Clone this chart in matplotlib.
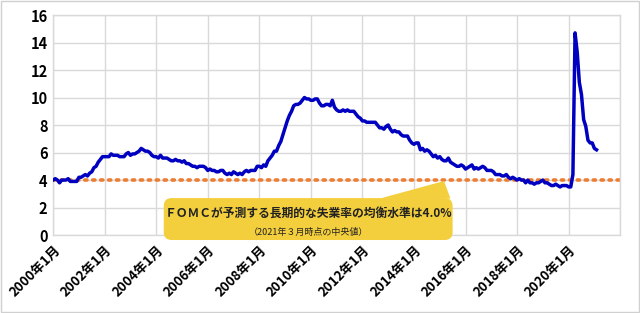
import matplotlib
matplotlib.use("Agg")
import matplotlib.pyplot as plt
from matplotlib.patches import FancyBboxPatch, Polygon, Rectangle

plt.rcParams['font.family'] = ['Noto Sans CJK JP', 'DejaVu Sans']

# US unemployment rate (%), monthly from 2000-01
rate = [
    4.0, 4.1, 4.0, 3.8, 4.0, 4.0, 4.0, 4.1, 3.9, 3.9, 3.9, 3.9,   # 2000
    4.2, 4.2, 4.3, 4.4, 4.3, 4.5, 4.6, 4.9, 5.0, 5.3, 5.5, 5.7,   # 2001
    5.7, 5.7, 5.7, 5.9, 5.8, 5.8, 5.8, 5.7, 5.7, 5.7, 5.9, 6.0,   # 2002
    5.8, 5.9, 5.9, 6.0, 6.1, 6.3, 6.2, 6.1, 6.1, 6.0, 5.8, 5.7,   # 2003
    5.7, 5.6, 5.8, 5.6, 5.6, 5.6, 5.5, 5.4, 5.4, 5.5, 5.4, 5.4,   # 2004
    5.3, 5.4, 5.2, 5.2, 5.1, 5.0, 5.0, 4.9, 5.0, 5.0, 5.0, 4.9,   # 2005
    4.7, 4.8, 4.7, 4.7, 4.6, 4.6, 4.7, 4.7, 4.5, 4.4, 4.5, 4.4,   # 2006
    4.6, 4.5, 4.4, 4.5, 4.4, 4.6, 4.7, 4.6, 4.7, 4.7, 4.7, 5.0,   # 2007
    5.0, 4.9, 5.1, 5.0, 5.4, 5.6, 5.8, 6.1, 6.1, 6.5, 6.8, 7.3,   # 2008
    7.8, 8.3, 8.7, 9.0, 9.4, 9.5, 9.5, 9.6, 9.8, 10.0, 9.9, 9.9,  # 2009
    9.8, 9.8, 9.9, 9.9, 9.6, 9.4, 9.4, 9.5, 9.5, 9.4, 9.8, 9.3,   # 2010
    9.1, 9.0, 9.0, 9.1, 9.0, 9.1, 9.0, 9.0, 9.0, 8.8, 8.6, 8.5,   # 2011
    8.3, 8.3, 8.2, 8.2, 8.2, 8.2, 8.2, 8.0, 7.8, 7.8, 7.7, 7.9,   # 2012
    8.0, 7.7, 7.5, 7.6, 7.5, 7.5, 7.3, 7.2, 7.2, 7.2, 6.9, 6.7,   # 2013
    6.6, 6.7, 6.7, 6.2, 6.3, 6.1, 6.2, 6.1, 5.9, 5.7, 5.8, 5.6,   # 2014
    5.7, 5.5, 5.4, 5.4, 5.6, 5.3, 5.2, 5.1, 5.0, 5.0, 5.1, 5.0,   # 2015
    4.8, 4.9, 5.0, 5.1, 4.8, 4.9, 4.8, 4.9, 5.0, 4.9, 4.7, 4.7,   # 2016
    4.7, 4.6, 4.4, 4.4, 4.4, 4.3, 4.3, 4.4, 4.2, 4.1, 4.2, 4.1,   # 2017
    4.0, 4.1, 4.0, 4.0, 3.8, 4.0, 3.8, 3.8, 3.7, 3.8, 3.8, 3.9,   # 2018
    4.0, 3.8, 3.8, 3.7, 3.6, 3.6, 3.7, 3.6, 3.5, 3.6, 3.6, 3.6,   # 2019
    3.5, 3.5, 4.4, 14.7, 13.3, 11.1, 10.2, 8.4, 7.9, 6.9, 6.7, 6.7,  # 2020
    6.3, 6.2,                                                       # 2021
]
fomc_level = 4.0
tick_labels = ['2000年1月', '2002年1月', '2004年1月', '2006年1月', '2008年1月',
               '2010年1月', '2012年1月', '2014年1月', '2016年1月', '2018年1月',
               '2020年1月']
callout_main = 'ＦＯＭＣが予測する長期的な失業率の均衡水準は4.0%'
callout_sub = '（2021年３月時点の中央値）'

months = list(range(len(rate)))
xmax = 264  # 2022-01

fig = plt.figure(figsize=(6.4, 3.13), dpi=100)
ax = fig.add_axes([0.083, 0.249, 0.886, 0.703])

ax.plot(months, rate, color='#0000C0', lw=2.5, zorder=3, solid_joinstyle='round')
ax.plot([0, xmax], [fomc_level, fomc_level], color='#ED7D31', lw=2.6,
        linestyle=(0, (0.6, 1.6)), dash_capstyle='round', zorder=2)

# callout box
box = FancyBboxPatch((51.5, -0.36), 134.5, 3.05,
                     boxstyle='round,pad=0,rounding_size=3.7',
                     mutation_aspect=0.157,
                     facecolor='#F4CF3D', edgecolor='none', clip_on=False, zorder=4)
ax.add_patch(box)
wedge = Polygon([[152, 2.65], [182, 3.93], [185, 2.65]], closed=True,
                facecolor='#F4CF3D', edgecolor='none', zorder=4)
ax.add_patch(wedge)
ax.text(118.7, 1.6, callout_main, ha='center', va='center', fontsize=8.5,
        fontweight='bold', color='#222222', zorder=5)
ax.text(118.7, 0.22, callout_sub, ha='center', va='center', fontsize=6.5,
        color='#222222', zorder=5)

ax.set_xlim(0, xmax)
ax.set_ylim(0, 16)
ax.set_yticks(range(0, 17, 2))
ax.set_xticks(range(0, xmax + 1, 24))
ax.set_xticklabels(tick_labels + [''], rotation=45, ha='right',
                   rotation_mode='anchor', fontsize=9.5, fontweight='bold')
for lab in ax.get_yticklabels():
    lab.set_fontsize(10.5)
    lab.set_fontweight('bold')
ax.tick_params(length=0, pad=4)
ax.tick_params(axis='x', pad=6)
ax.grid(True, color='#D9D9D9', lw=1)
ax.set_axisbelow(True)
for s in ax.spines.values():
    s.set_color('#D9D9D9')
    s.set_linewidth(1)

fig.patches.append(Rectangle((0.002, 0.003), 0.996, 0.994, transform=fig.transFigure,
                             fill=False, edgecolor='#D0D0D0', lw=1))

fig.savefig('out.png', dpi=100)
